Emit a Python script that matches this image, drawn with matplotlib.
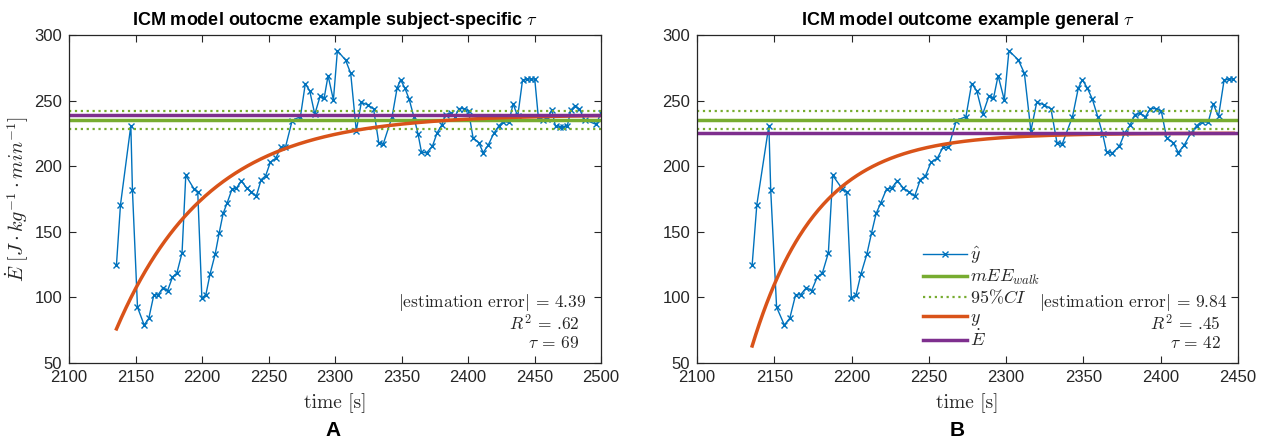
import numpy as np
import matplotlib
matplotlib.use("Agg")
import matplotlib.pyplot as plt

plt.rcParams["mathtext.fontset"] = "cm"
plt.rcParams["font.family"] = ["Liberation Sans", "DejaVu Sans"]
plt.rcParams["axes.formatter.use_mathtext"] = False

# measured energy expenditure (y-hat), breath-averaged samples
t_meas = [2135.7, 2138.7, 2146.5, 2147.7, 2151.5, 2156.5, 2160.0, 2163.8, 2167.0, 2170.8,
          2174.1, 2177.8, 2181.1, 2185.0, 2187.8, 2193.8, 2196.8, 2199.9, 2202.9, 2206.1,
          2209.9, 2212.9, 2215.9, 2218.9, 2222.6, 2225.9, 2229.6, 2233.5, 2237.2, 2240.8,
          2244.5, 2247.8, 2251.4, 2255.5, 2259.1, 2262.7, 2267.8, 2274.0, 2277.7, 2281.0,
          2284.8, 2288.8, 2291.8, 2294.8, 2298.8, 2301.8, 2307.9, 2311.8, 2316.0, 2319.8,
          2324.6, 2329.0, 2332.9, 2336.2, 2342.9, 2346.7, 2349.3, 2352.5, 2355.7, 2359.3,
          2362.5, 2365.0, 2368.8, 2373.3, 2376.8, 2380.1, 2383.3, 2386.9, 2390.1, 2393.3,
          2396.9, 2400.4, 2403.8, 2408.1, 2411.4, 2415.1, 2419.4, 2423.4, 2426.4, 2430.7,
          2433.9, 2437.4, 2441.0, 2444.4, 2447.0, 2450.2, 2452.9, 2456.2, 2459.5, 2463.0,
          2465.8, 2468.8, 2471.8, 2474.6, 2477.3, 2480.5, 2483.8, 2487.7, 2496.5, 2499.9]
y_meas = [125.0, 170.5, 231.0, 181.5, 92.5, 79.0, 84.0, 102.0, 102.0, 107.5,
          105.0, 115.5, 118.5, 134.0, 193.0, 183.0, 180.5, 99.5, 102.0, 118.0,
          133.0, 149.0, 164.0, 172.0, 182.6, 183.2, 189.0, 183.3, 180.3, 177.1,
          189.8, 192.6, 203.0, 206.1, 214.3, 214.3, 234.8, 237.8, 263.0, 257.4,
          239.6, 253.3, 251.7, 269.0, 250.5, 288.0, 281.0, 270.8, 227.0, 248.7,
          246.7, 243.7, 217.8, 216.7, 237.6, 259.6, 265.9, 259.6, 251.3, 237.6,
          224.2, 210.8, 210.1, 215.4, 225.5, 231.1, 239.4, 240.2, 237.6, 243.9,
          243.9, 241.9, 221.7, 217.9, 210.4, 215.9, 225.0, 231.0, 234.0, 233.5,
          247.5, 238.0, 265.6, 266.4, 266.4, 266.4, 237.0, 235.5, 236.0, 243.0,
          230.3, 229.8, 229.8, 230.3, 242.8, 246.1, 243.4, 235.5, 231.8, 240.8]

# walking reference and its 95% confidence interval
mEE_walk = 235.0
ci_low, ci_high = 228.5, 241.8

# model parameters per panel
err_A, err_B = 4.39, 9.84
Edot_A = mEE_walk + err_A
Edot_B = mEE_walk - err_B
tau_A, tau_B = 69, 42
r2_A, r2_B = ".62", ".45"
y0_A, y0_B = 76.0, 63.0
t_end_A, t_end_B = 2500.0, 2447.0

BLUE = "#0072BD"
ORANGE = "#D95319"
GREEN = "#77AC30"
PURPLE = "#7E2F8E"
DARK = "#262626"
SERIF = ["cmr10", "DejaVu Serif"]

fig = plt.figure(figsize=(12.66, 4.44), dpi=100)
W, H = 1266.0, 444.0


def model(t, y0, edot, tau):
    t0 = t_meas[0]
    return edot - (edot - y0) * np.exp(-(t - t0) / tau)


def panel(rect, xmax, t_end, edot, tau, y0, err, r2, title, tag, tag_x, tx, legend=False):
    ax = fig.add_axes(rect)
    tm = np.array(t_meas)
    ym = np.array(y_meas)
    keep = tm <= t_end
    xs = [2100, xmax]
    ax.plot(tm[keep], ym[keep], "-x", color=BLUE, lw=1.0, ms=4.0, mew=1.0, label=r"$\hat{y}$")
    ax.plot(xs, [mEE_walk] * 2, color=GREEN, lw=2.5, label=r"$mEE_{walk}$")
    ax.plot(xs, [ci_low] * 2, ":", color=GREEN, lw=1.6, label=r"$95\%CI$")
    ax.plot(xs, [ci_high] * 2, ":", color=GREEN, lw=1.6)
    tt = np.linspace(t_meas[0], t_end, 400)
    ax.plot(tt, model(tt, y0, edot, tau), color=ORANGE, lw=2.5, label=r"$y$")
    ax.plot(xs, [edot] * 2, color=PURPLE, lw=2.5, label=r"$\dot{E}$")

    ax.set_xlim(2100, xmax)
    ax.set_ylim(50, 300)
    ax.set_xticks(np.arange(2100, xmax + 1, 50))
    ax.set_yticks(np.arange(50, 301, 50))
    ax.tick_params(direction="in", top=True, right=True, length=5, width=0.8,
                   labelsize=12, colors=DARK, labelcolor=DARK, pad=5)
    for s in ax.spines.values():
        s.set_color(DARK)
        s.set_linewidth(0.9)

    ax.set_xlabel("time [s]", fontsize=14, color=DARK, labelpad=6, family=SERIF)
    ax.set_title(title, fontsize=13, fontweight="bold", color="black", pad=7)

    fs = 12.5
    ax.text(tx, 0.183, "$|$estimation error$|$ = %.2f" % err, transform=ax.transAxes,
            ha="right", va="center", fontsize=fs, color=DARK, family=SERIF)
    ax.text(tx - 0.012, 0.122, r"$R^2$ = %s" % r2, transform=ax.transAxes,
            ha="right", va="center", fontsize=fs, color=DARK, family=SERIF)
    ax.text(tx - 0.012, 0.062, r"$\tau$ = %d" % tau, transform=ax.transAxes,
            ha="right", va="center", fontsize=fs, color=DARK, family=SERIF)

    fig.text(tag_x / W, 1 - 430 / H, tag, ha="center", va="center",
             fontsize=15, fontweight="bold", color="black")

    if legend:
        leg = ax.legend(loc="lower left", bbox_to_anchor=(0.395, 0.0), frameon=False,
                        fontsize=13, handlelength=2.4, handletextpad=0.2,
                        labelspacing=0.1, borderaxespad=0.3)
        for txt in leg.get_texts():
            txt.set_color(DARK)
    return ax


bottom = 1 - 363 / H
height = (363 - 35) / H
axA = panel([69 / W, bottom, (601 - 69) / W, height], 2500, t_end_A, Edot_A, tau_A, y0_A,
            err_A, r2_A, r"ICM model outocme example subject-specific $\tau$", "A", 333, 0.972)
axA.set_ylabel(r"$\dot{E}\ [J \cdot kg^{-1} \cdot min^{-1}]$", fontsize=14.5, color=DARK)
axA.yaxis.set_label_coords(-0.072, 0.5)

axB = panel([697 / W, bottom, (1238 - 697) / W, height], 2450, t_end_B, Edot_B, tau_B, y0_B,
            err_B, r2_B, r"ICM model outcome example general $\tau$", "B", 957, 0.98, legend=True)

fig.savefig("out.png", dpi=100)
